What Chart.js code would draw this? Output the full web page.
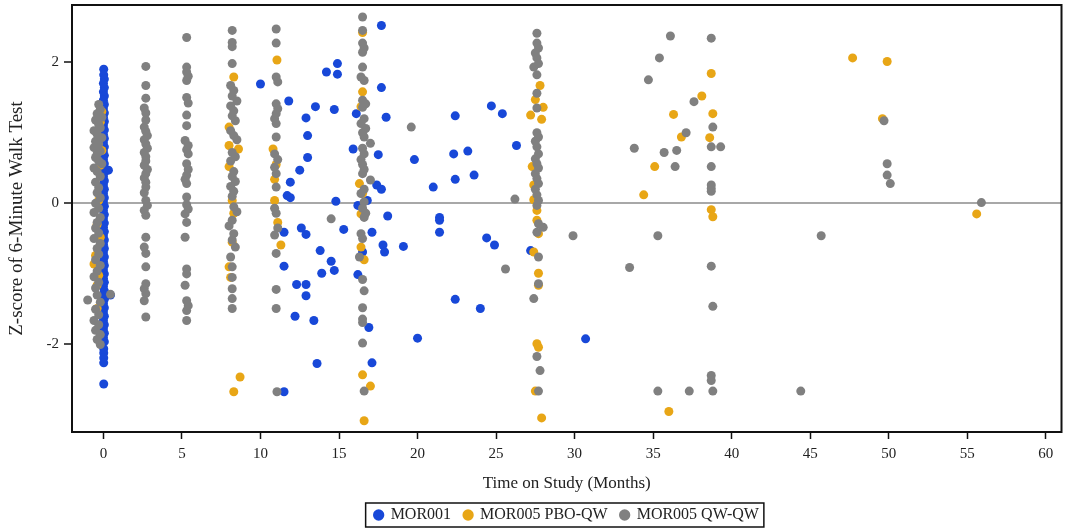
<!DOCTYPE html>
<html><head><meta charset="utf-8">
<script src="https://cdn.jsdelivr.net/npm/chart.js@4.4.0/dist/chart.umd.min.js"></script>
<style>html,body{margin:0;padding:0;background:#fff}#wrap{width:1066px;height:531px}</style>
</head><body><div id="wrap"><canvas id="c" width="1066" height="531"></canvas></div>
<script>
const seriesNames = ['MOR001', 'MOR005 PBO-QW', 'MOR005 QW-QW'];
const seriesColors = ['#1848d8', '#e8a616', '#808080'];
const xTickValues = [0, 5, 10, 15, 20, 25, 30, 35, 40, 45, 50, 55, 60];
const yTickValues = [-2, 0, 2];
const xTitle = 'Time on Study (Months)';
const yTitle = 'Z-score of 6-Minute Walk Test';

// [month, z-score]
const mor001Points = [
[0.02,1.90],[0.02,1.82],[0.06,1.76],[0.0,1.70],[0.06,1.64],[0.0,1.58],[0.06,1.52],[0.0,1.46],[0.06,1.40],[0.0,1.34],
[0.06,1.28],[0.0,1.22],[0.06,1.16],[0.0,1.10],[0.06,1.04],[0.0,0.98],[0.06,0.92],[0.0,0.86],[0.06,0.80],[0.0,0.74],
[0.06,0.68],[0.0,0.62],[0.06,0.56],[0.0,0.50],[0.32,0.47],[0.06,0.44],[0.0,0.38],[0.06,0.32],[0.0,0.26],[0.06,0.20],
[0.0,0.14],[0.06,0.08],[0.0,0.02],[0.06,-0.04],[0.0,-0.10],[0.06,-0.16],[0.0,-0.22],[0.06,-0.28],[0.0,-0.34],[0.06,-0.40],
[0.0,-0.46],[0.06,-0.52],[0.0,-0.58],[0.06,-0.64],[0.0,-0.70],[0.06,-0.76],[0.0,-0.82],[0.06,-0.88],[0.0,-0.94],[0.06,-1.00],
[0.0,-1.06],[0.06,-1.12],[0.0,-1.18],[0.06,-1.24],[0.45,-1.30],[0.0,-1.30],[0.06,-1.36],[0.0,-1.42],[0.06,-1.48],[0.0,-1.54],
[0.06,-1.60],[0.0,-1.66],[0.06,-1.72],[0.0,-1.78],[0.06,-1.84],[0.0,-1.90],[0.06,-1.96],[0.02,-2.06],[0.02,-2.12],[0.02,-2.19],
[0.02,-2.26],[0.02,-2.56],
[10.0,1.69],[11.8,1.45],[13.5,1.37],[12.9,1.21],[13.0,0.96],[13.0,0.65],[12.5,0.47],[11.9,0.30],[11.7,0.11],[11.9,0.08],
[17.7,2.52],[14.9,1.98],[14.2,1.86],[14.9,1.83],[17.7,1.64],[14.7,1.33],[16.1,1.27],[18.0,1.22],[22.4,1.24],[24.7,1.38],
[25.4,1.27],[26.3,0.82],[15.9,0.77],[17.5,0.69],[19.8,0.62],[22.3,0.70],[23.2,0.74],[22.4,0.34],[23.6,0.40],[21.0,0.23],
[17.4,0.26],[17.7,0.20],[14.8,0.03],[16.2,-0.03],[16.8,0.04],
[18.1,-0.18],[21.4,-0.20],[21.4,-0.24],[21.4,-0.41],[15.3,-0.37],[17.1,-0.41],[12.9,-0.44],[12.6,-0.35],[11.5,-0.41],[24.4,-0.49],
[24.9,-0.59],[17.8,-0.59],[17.9,-0.69],[19.1,-0.61],[13.8,-0.67],[14.5,-0.82],[14.7,-0.95],[13.9,-0.99],[16.2,-1.01],[11.5,-0.89],
[12.3,-1.15],[12.9,-1.15],[12.9,-1.31],[22.4,-1.36],[24.0,-1.49],[12.2,-1.60],[13.4,-1.66],[16.9,-1.76],[20.0,-1.91],[13.6,-2.27],
[17.1,-2.26],[11.5,-2.67],[27.2,-0.67],[16.5,-0.69],[30.7,-1.92]
];

const mor005PboPoints = [
[-0.2,1.15],[-0.1,1.30],[-0.2,0.54],[-0.1,0.75],[-0.3,0.04],[-0.4,-0.30],[-0.2,-0.48],[-0.5,-0.74],[-0.6,-0.86],[-0.3,-1.02],
[-0.4,-1.16],[-0.4,-1.49],
[8.3,1.79],[8.0,1.08],[8.0,0.82],[8.6,0.77],[8.0,0.52],[8.2,0.04],[8.3,-0.14],[8.2,-0.55],[8.0,-0.90],[8.1,-1.05],
[8.7,-2.46],[8.3,-2.67],
[11.05,2.03],[10.8,0.77],[10.9,0.34],[10.9,0.04],[11.1,-0.27],[11.3,-0.59],[11.0,0.55],
[16.5,2.42],[16.5,1.58],[16.4,1.37],[16.3,0.28],[16.5,0.14],[16.4,-0.15],[16.4,-0.62],[16.6,-0.80],[16.5,-2.43],[17.0,-2.59],
[16.6,-3.08],
[27.8,1.67],[27.5,1.47],[28.0,1.36],[27.2,1.25],[27.9,1.19],[27.3,0.52],[27.4,0.26],[27.4,0.05],[27.6,-0.10],[27.6,-0.24],
[27.7,-0.43],[27.4,-0.69],[27.7,-0.99],[27.7,-1.16],[27.6,-1.99],[27.7,-2.04],[27.5,-2.66],[27.9,-3.04],
[38.7,1.84],[38.1,1.52],[36.3,1.26],[38.8,1.27],[36.8,0.94],[38.6,0.93],[35.1,0.52],[34.4,0.12],[38.7,-0.09],[38.8,-0.19],
[36.0,-2.95],[47.7,2.06],[49.9,2.01],[55.6,-0.15],[49.6,1.20]
];

const mor005QwPoints = [
[-0.3,1.40],[-0.2,1.33],[-0.4,1.27],[-0.1,1.22],[-0.5,1.18],[-0.3,1.12],[-0.2,1.07],[-0.6,1.03],[-0.4,0.98],[-0.1,0.93],
[-0.5,0.88],[-0.3,0.84],[-0.6,0.79],[-0.2,0.74],[-0.4,0.70],[-0.5,0.65],[-0.3,0.60],[-0.1,0.56],[-0.6,0.50],[-0.4,0.45],
[-0.2,0.38],[-0.5,0.30],[-0.3,0.22],[-0.4,0.15],[-0.2,0.08],[-0.5,0.00],[-0.3,-0.07],[-0.6,-0.13],[-0.2,-0.20],[-0.4,-0.27],
[-0.5,-0.35],[-0.3,-0.42],[-0.6,-0.50],[-0.2,-0.57],[-0.4,-0.64],[-0.3,-0.72],[-0.5,-0.80],[-0.2,-0.88],[-0.4,-0.96],[-0.6,-1.04],
[-0.3,-1.12],[-0.5,-1.20],[-1.0,-1.37],[0.45,-1.29],[-0.4,-1.30],[-0.2,-1.40],[-0.5,-1.50],[-0.3,-1.58],[-0.6,-1.66],[-0.3,-1.72],
[-0.5,-1.80],[-0.2,-1.86],[-0.4,-1.93],[-0.2,-2.00],
[2.7,1.94],[2.7,1.67],[2.7,1.49],[2.6,1.35],[2.7,1.28],[2.7,1.18],[2.6,1.08],[2.7,1.02],[2.8,0.96],[2.6,0.90],
[2.7,0.84],[2.8,0.78],[2.6,0.72],[2.7,0.66],[2.7,0.60],[2.6,0.54],[2.8,0.48],[2.7,0.42],[2.6,0.36],[2.7,0.30],
[2.7,0.23],[2.6,0.15],[2.7,0.04],[2.8,-0.03],[2.6,-0.10],[2.7,-0.17],[2.7,-0.48],[2.6,-0.62],[2.7,-0.71],[2.7,-0.90],
[2.7,-1.14],[2.6,-1.21],[2.7,-1.28],[2.6,-1.38],[2.7,-1.61],
[5.3,2.35],[5.3,1.93],[5.3,1.86],[5.4,1.80],[5.3,1.74],[5.3,1.50],[5.4,1.42],[5.3,1.25],[5.3,1.10],[5.2,0.89],
[5.4,0.82],[5.3,0.76],[5.4,0.70],[5.3,0.56],[5.4,0.48],[5.3,0.40],[5.2,0.34],[5.3,0.28],[5.3,0.09],[5.3,-0.02],
[5.4,-0.08],[5.2,-0.15],[5.3,-0.27],[5.2,-0.48],[5.3,-0.93],[5.3,-1.00],[5.2,-1.16],[5.3,-1.38],[5.4,-1.45],[5.3,-1.52],
[5.3,-1.66],
[8.2,2.45],[8.2,2.28],[8.2,2.22],[8.2,1.98],[8.1,1.67],[8.3,1.60],[8.2,1.52],[8.5,1.45],[8.1,1.38],[8.3,1.31],
[8.2,1.24],[8.4,1.17],[8.1,1.03],[8.3,0.96],[8.5,0.90],[8.2,0.72],[8.4,0.66],[8.1,0.60],[8.3,0.45],[8.2,0.38],
[8.4,0.31],[8.1,0.24],[8.3,0.17],[8.2,0.10],[8.3,-0.05],[8.5,-0.12],[8.2,-0.24],[8.0,-0.32],[8.3,-0.43],[8.2,-0.52],
[8.4,-0.62],[8.1,-0.76],[8.2,-0.90],[8.2,-1.05],[8.2,-1.21],[8.2,-1.35],[8.2,-1.49],
[11.0,2.47],[11.0,2.27],[11.0,1.79],[11.1,1.72],[11.0,1.41],[11.1,1.34],[11.0,1.27],[10.9,1.20],[11.0,1.13],[11.0,0.94],
[10.9,0.70],[11.1,0.62],[10.9,0.51],[11.0,0.42],[11.0,0.23],[10.9,-0.07],[11.0,-0.14],[11.1,-0.35],[10.9,-0.45],[11.0,-0.71],
[11.0,-1.22],[11.0,-1.49],[11.05,-2.67],
[16.5,2.64],[16.5,2.45],[16.5,2.27],[16.6,2.20],[16.5,2.14],[16.5,1.93],[16.4,1.79],[16.6,1.74],[16.5,1.46],[16.7,1.41],
[16.5,1.36],[16.6,1.20],[16.4,1.13],[16.7,1.06],[16.5,1.00],[16.6,0.94],[17.0,0.85],[16.5,0.78],[16.6,0.70],[16.4,0.62],
[16.5,0.55],[16.6,0.48],[16.5,0.42],[17.0,0.33],[16.6,0.20],[16.4,0.14],[16.6,0.02],[16.5,-0.07],[16.7,-0.14],[16.6,-0.20],
[16.4,-0.43],[16.5,-0.50],[16.3,-0.76],[16.5,-1.08],[16.6,-1.24],[16.5,-1.48],[16.5,-1.64],[16.5,-1.69],[16.5,-1.98],[16.6,-2.66],
[14.5,-0.22],[19.6,1.08],[26.2,0.06],[25.6,-0.93],
[27.6,2.41],[27.6,2.27],[27.7,2.20],[27.5,2.13],[27.6,2.06],[27.7,1.98],[27.4,1.93],[27.6,1.82],[27.6,1.56],[27.6,1.35],
[27.6,1.00],[27.7,0.94],[27.5,0.88],[27.6,0.80],[27.7,0.70],[27.5,0.63],[27.6,0.56],[27.7,0.50],[27.5,0.42],[27.6,0.35],
[27.7,0.28],[27.5,0.20],[27.6,0.12],[27.7,0.04],[27.6,-0.03],[27.7,-0.29],[28.0,-0.34],[27.6,-0.41],[27.7,-0.76],[27.7,-1.14],
[27.4,-1.35],[27.6,-2.17],[27.8,-2.37],[27.7,-2.66],
[29.9,-0.46],[35.3,-0.46],[45.7,-0.46],[33.5,-0.91],[38.7,-0.89],[38.8,-1.46],[38.7,-2.44],[38.7,-2.51],[35.3,-2.66],[37.3,-2.66],
[38.8,-2.66],[44.4,-2.66],[36.1,2.37],[38.7,2.34],[35.4,2.06],[34.7,1.75],[37.6,1.44],[38.8,1.08],[37.1,1.00],[33.8,0.78],
[35.7,0.72],[36.5,0.75],[38.7,0.80],[39.3,0.80],[36.4,0.52],[38.7,0.52],[38.7,0.26],[38.7,0.21],[38.7,0.17],[49.7,1.17],
[49.9,0.56],[49.9,0.40],[50.1,0.28],[55.9,0.01]
];

const allSeries = [mor001Points, mor005PboPoints, mor005QwPoints];
const FONT = 'Liberation Serif, Times New Roman, serif';
const PAD_BOTTOM = -2;
const LEGEND_H_GUESS = 39;

const framePlugin = {
  id: 'frame',
  afterDraw(chart) {
    const ctx = chart.ctx, a = chart.chartArea;
    ctx.save();
    ctx.strokeStyle = '#111';
    ctx.lineWidth = 2;
    ctx.strokeRect(a.left, a.top, a.right - a.left, a.bottom - a.top);
    const lg = chart.legend;
    if (lg && lg.legendHitBoxes && lg.legendHitBoxes.length) {
      let l = Infinity, r = -Infinity, t = Infinity, b = -Infinity;
      lg.legendHitBoxes.forEach(h => { l = Math.min(l, h.left); r = Math.max(r, h.left + h.width); t = Math.min(t, h.top); b = Math.max(b, h.top + h.height); });
      ctx.lineWidth = 1.5;
      ctx.strokeRect(l - 9, t - 4, (r - l) + 14, (b - t) + 8);
    }
    ctx.restore();
  }
};

new Chart(document.getElementById('c'), {
  type: 'scatter',
  data: {
    datasets: allSeries.map((pts, i) => ({
      label: seriesNames[i],
      data: pts.map(p => ({ x: p[0], y: p[1] })),
      backgroundColor: seriesColors[i],
      borderColor: seriesColors[i],
      borderWidth: 0,
      pointRadius: 4.5,
      pointHoverRadius: 4.5,
      order: 2 - i
    }))
  },
  options: {
    responsive: false,
    animation: false,
    devicePixelRatio: 1,
    layout: { padding: { top: 5, right: 4, bottom: PAD_BOTTOM, left: 0 } },
    plugins: {
      tooltip: { enabled: false },
      legend: {
        position: 'bottom',
        fullSize: false,
        labels: {
          font: { family: FONT, size: 16 },
          color: '#222',
          usePointStyle: true,
          pointStyle: 'circle',
          boxWidth: 8,
          boxHeight: 8,
          padding: 13,
          sort: (a, b) => a.datasetIndex - b.datasetIndex
        }
      }
    },
    scales: {
      x: {
        type: 'linear',
        min: -2,
        max: 61,
        afterBuildTicks: s => { s.ticks = xTickValues.map(v => ({ value: v })); },
        afterFit: s => {
          const lg = s.chart.legend;
          const lh = (lg && isFinite(lg.height) && lg.height > 0) ? lg.height : LEGEND_H_GUESS;
          s.height = 531 - PAD_BOTTOM - lh - 432;
          s.paddingLeft = 0; s.paddingRight = 0;
        },
        ticks: { font: { family: FONT, size: 15 }, color: '#222', padding: 6, maxRotation: 0 },
        grid: { drawOnChartArea: false, color: '#111', tickColor: '#111', tickLength: 7, tickWidth: 1.5 },
        border: { display: true, color: '#111', width: 2 },
        title: { display: true, text: xTitle, font: { family: FONT, size: 17 }, color: '#222', padding: { top: 6, bottom: 0 } }
      },
      y: {
        type: 'linear',
        min: -3.24,
        max: 2.81,
        afterBuildTicks: s => { s.ticks = yTickValues.map(v => ({ value: v })); },
        afterFit: s => { s.width = 72; s.paddingTop = 0; s.paddingBottom = 0; },
        ticks: { font: { family: FONT, size: 15 }, color: '#222', padding: 5 },
        grid: {
          drawOnChartArea: true,
          color: c => (c.tick && c.tick.value === 0) ? '#a8a8a8' : 'rgba(0,0,0,0)',
          lineWidth: 2,
          tickColor: '#111',
          tickLength: 8,
          tickWidth: 1.5
        },
        border: { display: true, color: '#111', width: 2 },
        title: { display: true, text: yTitle, font: { family: FONT, size: 19 }, color: '#222', padding: { top: 6, bottom: 2 } }
      }
    }
  },
  plugins: [framePlugin]
});
</script>
</body></html>
